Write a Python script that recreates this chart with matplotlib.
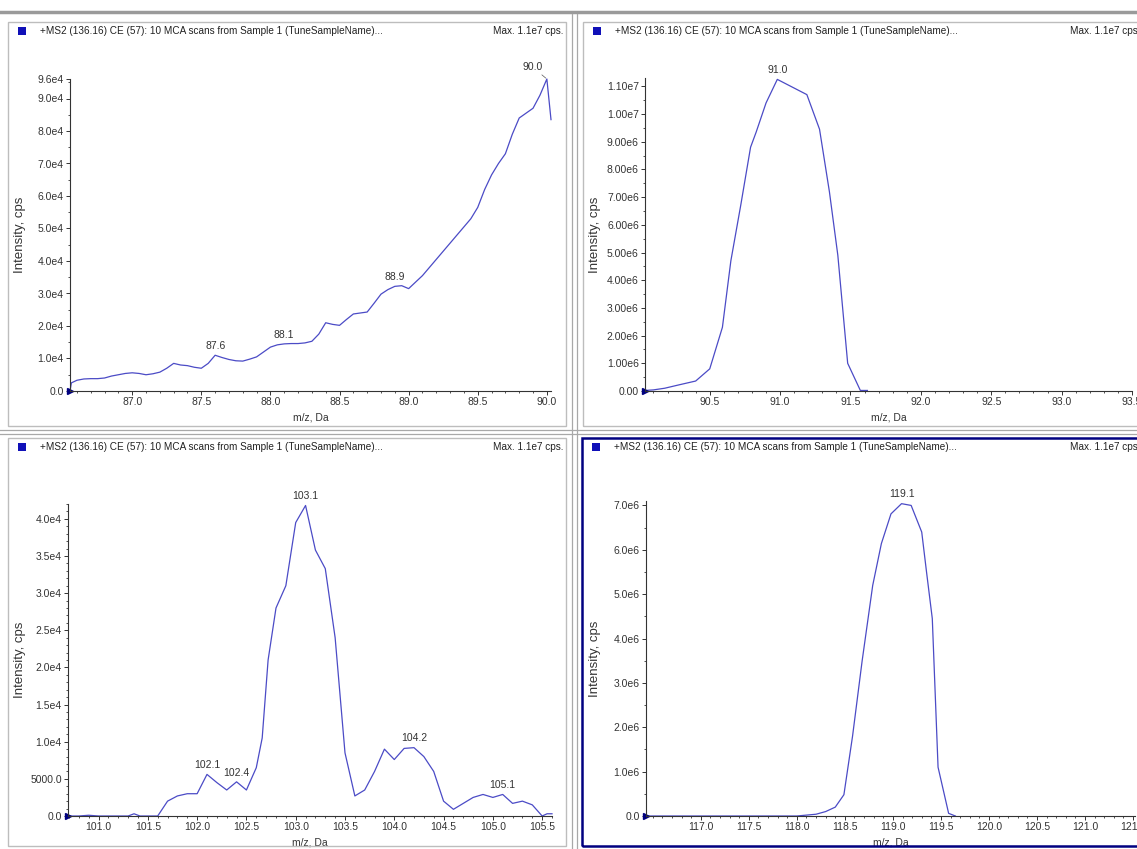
import matplotlib
matplotlib.use('Agg')
import matplotlib.pyplot as plt
from matplotlib.ticker import FixedLocator, MultipleLocator
from matplotlib.patches import Rectangle
from matplotlib.lines import Line2D

plt.rcParams['font.family'] = ['Liberation Sans', 'DejaVu Sans']

W, H = 1137, 849
line_col = '#4b4bc6'
navy = '#000080'
txt_col = '#333333'

# ---- panel A: 86.5 - 90 Da
mz_a = [86.55, 86.56, 86.6, 86.65, 86.7, 86.75, 86.8, 86.85, 86.9, 86.95, 87.0,
        87.05, 87.1, 87.15, 87.2, 87.25, 87.3, 87.35, 87.4, 87.45, 87.5,
        87.55, 87.6, 87.65, 87.7, 87.75, 87.8, 87.85, 87.9, 87.95, 88.0,
        88.05, 88.1, 88.15, 88.2, 88.25, 88.3, 88.35, 88.4, 88.45, 88.5,
        88.55, 88.6, 88.65, 88.7, 88.75, 88.8, 88.85, 88.9, 88.95, 89.0,
        89.05, 89.1, 89.15, 89.2, 89.25, 89.3, 89.35, 89.4, 89.45, 89.5,
        89.55, 89.6, 89.65, 89.7, 89.75, 89.8, 89.85, 89.9, 89.95, 90.0, 90.03]
int_a = [0.0, 0.25, 0.33, 0.37, 0.38, 0.38, 0.40, 0.46, 0.50, 0.54, 0.56,
         0.54, 0.50, 0.53, 0.58, 0.70, 0.85, 0.80, 0.78, 0.73, 0.70,
         0.85, 1.10, 1.03, 0.97, 0.93, 0.92, 0.98, 1.05, 1.20, 1.35,
         1.42, 1.45, 1.46, 1.46, 1.48, 1.53, 1.75, 2.10, 2.05, 2.02,
         2.20, 2.37, 2.40, 2.43, 2.70, 2.98, 3.12, 3.22, 3.24, 3.15,
         3.35, 3.55, 3.80, 4.05, 4.30, 4.55, 4.80, 5.05, 5.30, 5.65,
         6.20, 6.65, 7.00, 7.30, 7.90, 8.40, 8.55, 8.70, 9.10, 9.60, 8.35]  # x1e4
int_a = [v * 1e4 for v in int_a]
peaks_a = [(87.6, 1.10e4, '87.6'), (88.1, 1.45e4, '88.1'), (88.9, 3.22e4, '88.9')]
xt_a = [87.0, 87.5, 88.0, 88.5, 89.0, 89.5, 90.0]
yt_a = [0, 1e4, 2e4, 3e4, 4e4, 5e4, 6e4, 7e4, 8e4, 9e4, 9.6e4]
ytl_a = ['0.0', '1.0e4', '2.0e4', '3.0e4', '4.0e4', '5.0e4', '6.0e4', '7.0e4',
         '8.0e4', '9.0e4', '9.6e4']

# ---- panel B: 90 - 93.5 Da
mz_b = [90.04, 90.1, 90.18, 90.28, 90.4, 90.5, 90.59, 90.65, 90.72, 90.79,
        90.83, 90.9, 90.98, 91.19, 91.28, 91.35, 91.41, 91.48, 91.57, 91.62]
int_b = [0.02, 0.04, 0.10, 0.22, 0.36, 0.80, 2.30, 4.70, 6.70, 8.80,
         9.35, 10.40, 11.25, 10.70, 9.45, 7.20, 4.90, 1.00, 0.02, 0.02]  # x1e6
int_b = [v * 1e6 for v in int_b]
peaks_b = [(90.98, 11.25e6, '91.0')]
xt_b = [90.5, 91.0, 91.5, 92.0, 92.5, 93.0, 93.5]
yt_b = [0, 1e6, 2e6, 3e6, 4e6, 5e6, 6e6, 7e6, 8e6, 9e6, 1e7, 1.1e7]
ytl_b = ['0.00', '1.00e6', '2.00e6', '3.00e6', '4.00e6', '5.00e6', '6.00e6',
         '7.00e6', '8.00e6', '9.00e6', '1.00e7', '1.10e7']

# ---- panel C: 100.7 - 105.6 Da
mz_c = [100.69, 100.8, 100.9, 101.0, 101.3, 101.36, 101.42, 101.6,
        101.7, 101.8, 101.9, 102.0, 102.1, 102.2, 102.3, 102.4, 102.5, 102.6,
        102.66, 102.72, 102.8, 102.9, 103.0, 103.1, 103.2, 103.3, 103.4, 103.5,
        103.6, 103.7, 103.8, 103.9, 104.0, 104.1, 104.2, 104.3, 104.4, 104.5,
        104.6, 104.7, 104.8, 104.9, 105.0, 105.1, 105.2, 105.3, 105.4, 105.5,
        105.55, 105.6]
int_c = [0, 0, 100, 0, 0, 300, 0, 0,
         2000, 2700, 3000, 3000, 5600, 4500, 3500, 4600, 3500, 6500,
         10500, 21000, 28000, 31000, 39500, 41800, 35800, 33300, 24000, 8500,
         2700, 3500, 6000, 9000, 7600, 9100, 9200, 8000, 6000, 2000,
         900, 1700, 2500, 2900, 2500, 2900, 1700, 2000, 1500, 0,
         300, 300]
peaks_c = [(102.1, 5600, '102.1'), (102.4, 4600, '102.4'), (103.1, 41800, '103.1'),
           (104.2, 9200, '104.2'), (105.1, 2900, '105.1')]
xt_c = [101.0, 101.5, 102.0, 102.5, 103.0, 103.5, 104.0, 104.5, 105.0, 105.5]
yt_c = [0, 5000, 1e4, 1.5e4, 2e4, 2.5e4, 3e4, 3.5e4, 4e4]
ytl_c = ['0.0', '5000.0', '1.0e4', '1.5e4', '2.0e4', '2.5e4', '3.0e4', '3.5e4', '4.0e4']

# ---- panel D: 116.4 - 121.5 Da
mz_d = [116.43, 118.0, 118.1, 118.2, 118.3, 118.4, 118.49, 118.58, 118.68, 118.79,
        118.88, 118.98, 119.09, 119.19, 119.3, 119.35, 119.41, 119.47, 119.58, 119.65]
int_d = [0.0, 0.0, 0.02, 0.04, 0.10, 0.20, 0.48, 1.80, 3.50, 5.20,
         6.14, 6.81, 7.04, 7.00, 6.40, 5.50, 4.45, 1.10, 0.06, 0.0]  # x1e6
int_d = [v * 1e6 for v in int_d]
peaks_d = [(119.09, 7.04e6, '119.1')]
xt_d = [117.0, 117.5, 118.0, 118.5, 119.0, 119.5, 120.0, 120.5, 121.0, 121.5]
yt_d = [0, 1e6, 2e6, 3e6, 4e6, 5e6, 6e6, 7e6]
ytl_d = ['0.0', '1.0e6', '2.0e6', '3.0e6', '4.0e6', '5.0e6', '6.0e6', '7.0e6']

title = '+MS2 (136.16) CE (57): 10 MCA scans from Sample 1 (TuneSampleName)...'
maxtxt = 'Max. 1.1e7 cps.'

fig = plt.figure(figsize=(W / 100, H / 100), dpi=100)


def fbox(x0, y0, x1, y1):
    # pixel box (top-left origin) -> figure fraction
    return [x0 / W, 1 - y1 / H, (x1 - x0) / W, (y1 - y0) / H]


def frame(x0, y0, x1, y1, col='#bdbdbd', lw=1.0):
    b = fbox(x0, y0, x1, y1)
    fig.add_artist(Rectangle((b[0], b[1]), b[2], b[3], transform=fig.transFigure,
                             fill=False, edgecolor=col, linewidth=lw))


def header(x0, y0, xmax):
    b = fbox(x0 + 10, y0 + 5, x0 + 18, y0 + 13)
    fig.add_artist(Rectangle((b[0], b[1]), b[2], b[3], transform=fig.transFigure,
                             facecolor='#1010b8', edgecolor='none'))
    fig.text((x0 + 32) / W, 1 - (y0 + 9) / H, title, fontsize=7.2, va='center',
             ha='left', color='#222222')
    fig.text(xmax / W, 1 - (y0 + 9) / H, maxtxt, fontsize=7.2, va='center',
             ha='left', color='#222222')


def panel(box, mz, inten, xlim, ylim, xt, yt, ytl, peaks, ylab_x, minor_y):
    ax = fig.add_axes(fbox(*box))
    ax.plot(mz, inten, color=line_col, lw=0.9, clip_on=False)
    ax.plot([xlim[0]], [0], marker='>', color=navy, ms=5, clip_on=False)
    ax.set_xlim(xlim)
    ax.set_ylim(ylim)
    for s in ['top', 'right']:
        ax.spines[s].set_visible(False)
    for s in ['left', 'bottom']:
        ax.spines[s].set_color(txt_col)
        ax.spines[s].set_linewidth(0.8)
    ax.xaxis.set_major_locator(FixedLocator(xt))
    ax.set_xticklabels(['%.1f' % v for v in xt])
    ax.xaxis.set_minor_locator(MultipleLocator(0.1))
    ax.yaxis.set_major_locator(FixedLocator(yt))
    ax.set_yticklabels(ytl)
    ax.yaxis.set_minor_locator(MultipleLocator(minor_y))
    ax.tick_params(which='major', length=3, width=0.7, labelsize=7.5,
                   colors=txt_col, pad=1.5)
    ax.tick_params(which='minor', length=1.5, width=0.6, colors=txt_col)
    ax.set_xlabel('m/z, Da', fontsize=7.5, color=txt_col)
    ax.xaxis.set_label_coords(0.5, -0.068)
    ax.set_ylabel('Intensity, cps', fontsize=9.5, color=txt_col)
    ax.yaxis.set_label_coords((ylab_x - box[0]) / (box[2] - box[0]), 0.5)
    for x, y, t in peaks:
        ax.annotate(t, (x, y), xytext=(0, 3), textcoords='offset points',
                    ha='center', va='bottom', fontsize=7.5, color=txt_col,
                    annotation_clip=False)
    return ax


# separators
fig.add_artist(Line2D([0, 1], [1 - 12 / H, 1 - 12 / H], transform=fig.transFigure,
                      color='#9a9a9a', lw=2.5))
for xs in (572, 577):
    fig.add_artist(Line2D([xs / W, xs / W], [0, 1 - 14 / H], transform=fig.transFigure,
                          color='#a8a8a8', lw=0.9))
for ys in (430, 434):
    fig.add_artist(Line2D([0, 1], [1 - ys / H, 1 - ys / H], transform=fig.transFigure,
                          color='#a8a8a8', lw=0.9))

frame(8, 22, 566, 426)
frame(583, 22, 1145, 426)
frame(8, 438, 566, 846)
frame(582, 438, 1145, 846, col=navy, lw=1.8)

header(8, 22, 493)
header(583, 22, 1070)
header(8, 438, 493)
header(582, 438, 1070)

ax_a = panel((70, 79, 551, 391), mz_a, int_a, (86.55, 90.03), (0, 9.6e4),
             xt_a, yt_a, ytl_a, peaks_a, 26, 5000)
ax_a.annotate('90.0', (90.0, 9.6e4), xytext=(-3, 5), textcoords='offset points',
              ha='right', va='bottom', fontsize=7.5, color=txt_col,
              annotation_clip=False,
              arrowprops=dict(arrowstyle='-', lw=0.5, color='#555555',
                              shrinkA=0, shrinkB=1))

panel((645, 78, 1132, 391), mz_b, int_b, (90.04, 93.5), (0, 1.13e7),
      xt_b, yt_b, ytl_b, peaks_b, 601, 5e5)
panel((68, 504, 552, 816), mz_c, int_c, (100.69, 105.6), (0, 4.2e4),
      xt_c, yt_c, ytl_c, peaks_c, 26, 1000)
panel((646, 501, 1135, 816), mz_d, int_d, (116.43, 121.52), (0, 7.1e6),
      xt_d, yt_d, ytl_d, peaks_d, 601, 5e5)

fig.savefig('out.png', dpi=100)
